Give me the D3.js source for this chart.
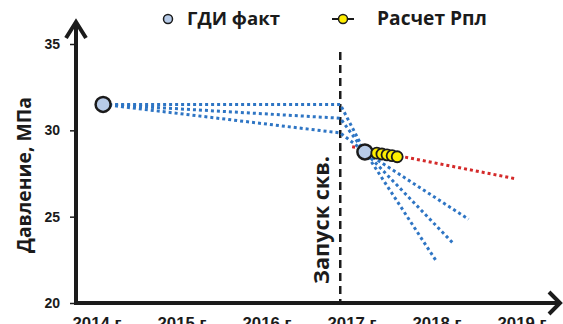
<!DOCTYPE html>
<html>
<head>
<meta charset="utf-8">
<script src="https://cdn.jsdelivr.net/npm/d3@7"></script>
<style>
  html, body { margin: 0; padding: 0; background: #fff; }
  svg { display: block; font-family: "Open Sans", "Noto Sans", sans-serif; }
</style>
</head>
<body>
<svg id="chart" width="563" height="324"></svg>
<script>
// Axis ticks
const years = [2014, 2015, 2016, 2017, 2018, 2019];
const pressureTicks = [20, 25, 30, 35];

// Well test measurements (ГДИ факт)
const gdiDates = [2014.06, 2017.14];
const gdiValues = [31.5, 28.75];

// Calculated reservoir pressure (Расчет Рпл)
const calcDates = [2017.28, 2017.34, 2017.40, 2017.46, 2017.52];
const calcValues = [28.68, 28.63, 28.58, 28.53, 28.47];

// Extrapolated trend of the calculated pressure
const trendDates = [2016.99, 2018.91];
const trendValues = [29.05, 27.2];

// Well launch date
const launchDate = 2016.85;

// Forecast scenarios before and after the launch
const scenarioA_dates = [2014.06, 2016.85, 2017.14, 2018.36];
const scenarioA_values = [31.5, 31.5, 28.75, 24.85];
const scenarioB_dates = [2014.06, 2016.85, 2017.14, 2018.18];
const scenarioB_values = [31.5, 30.7, 28.75, 23.45];
const scenarioC_dates = [2014.06, 2016.85, 2017.14, 2017.99];
const scenarioC_values = [31.5, 29.85, 28.75, 22.35];

const svg = d3.select("#chart");

const x = d3.scaleLinear().domain([2014, 2019]).range([98, 523]);
const y = d3.scaleLinear().domain([20, 35]).range([303, 44]);

const axisX0 = 76, axisY0 = 303;
const ink = "#1b1b1b";

// Scale a text's font size so that it spans the given width
function fitWidth(sel, width) {
  sel.each(function () {
    const base = parseFloat(this.style.fontSize);
    const w = this.getComputedTextLength();
    if (w > 0) this.style.fontSize = (base * width / w).toFixed(2) + "px";
  });
}

// Y axis ticks and labels
const yAxis = svg.append("g")
  .attr("transform", `translate(${axisX0},0)`)
  .call(d3.axisLeft(y).tickValues(pressureTicks).tickSize(6).tickPadding(10));
yAxis.select(".domain").remove();
yAxis.selectAll(".tick line").attr("stroke", ink).attr("stroke-width", 1.5);
yAxis.selectAll(".tick text")
  .attr("fill", ink)
  .style("font-size", "14px")
  .style("font-weight", "700");

// X axis labels
const xAxis = svg.append("g")
  .attr("transform", `translate(0,${axisY0})`)
  .call(d3.axisBottom(x).tickValues(years).tickSize(0).tickPadding(14)
    .tickFormat(d => d + " г."));
xAxis.select(".domain").remove();
xAxis.selectAll(".tick text")
  .attr("fill", ink)
  .style("font-size", "14px")
  .style("font-weight", "700");
fitWidth(xAxis.selectAll(".tick text"), 52);

// Axis lines with open arrowheads
svg.append("path")
  .attr("d", `M${axisX0},${axisY0} L${axisX0},22`)
  .attr("stroke", ink).attr("stroke-width", 4).attr("fill", "none");
svg.append("path")
  .attr("d", `M${axisX0 - 10},38 L${axisX0},22 L${axisX0 + 10},38`)
  .attr("stroke", ink).attr("stroke-width", 4).attr("fill", "none");
svg.append("path")
  .attr("d", `M${axisX0 - 2},${axisY0} L560,${axisY0}`)
  .attr("stroke", ink).attr("stroke-width", 4).attr("fill", "none");
svg.append("path")
  .attr("d", `M549,${axisY0 - 11} L560,${axisY0} L549,${axisY0 + 11}`)
  .attr("stroke", ink).attr("stroke-width", 4).attr("fill", "none");

// Y axis title
const yTitle = svg.append("text")
  .attr("transform", "translate(24,175) rotate(-90)")
  .attr("text-anchor", "middle")
  .attr("dy", "0.35em")
  .attr("fill", ink)
  .style("font-size", "18px")
  .style("font-weight", "700")
  .text("Давление, МПа");
fitWidth(yTitle, 156);

// Launch marker
svg.append("line")
  .attr("x1", x(launchDate)).attr("x2", x(launchDate))
  .attr("y1", 52).attr("y2", axisY0)
  .attr("stroke", ink).attr("stroke-width", 2.5)
  .attr("stroke-dasharray", "8,5");
const launchLabel = svg.append("text")
  .attr("transform", `translate(${x(launchDate) - 19},220) rotate(-90)`)
  .attr("text-anchor", "middle")
  .attr("dy", "0.35em")
  .attr("fill", ink)
  .style("font-size", "18px")
  .style("font-weight", "700")
  .text("Запуск скв.");
fitWidth(launchLabel, 128);

const line = d3.line().x(d => x(d[0])).y(d => y(d[1]));

// Forecast scenarios
const scenarios = [
  [scenarioA_dates, scenarioA_values],
  [scenarioB_dates, scenarioB_values],
  [scenarioC_dates, scenarioC_values]
];
svg.append("g").selectAll("path")
  .data(scenarios)
  .join("path")
  .attr("d", s => line(d3.zip(s[0], s[1])))
  .attr("fill", "none")
  .attr("stroke", "#2e75c4")
  .attr("stroke-width", 3)
  .attr("stroke-dasharray", "3,3");

// Trend of calculated pressure
svg.append("path")
  .attr("d", line(d3.zip(trendDates, trendValues)))
  .attr("fill", "none")
  .attr("stroke", "#d42a2a")
  .attr("stroke-width", 3)
  .attr("stroke-dasharray", "3,3");

// Well test points
svg.append("g").selectAll("circle")
  .data(d3.zip(gdiDates, gdiValues))
  .join("circle")
  .attr("cx", d => x(d[0])).attr("cy", d => y(d[1]))
  .attr("r", 7.5)
  .attr("fill", "#b7cbe8")
  .attr("stroke", ink).attr("stroke-width", 2.5);

// Calculated pressure points
const calc = d3.zip(calcDates, calcValues);
svg.append("path")
  .attr("d", line(calc))
  .attr("fill", "none").attr("stroke", ink).attr("stroke-width", 1.5);
svg.append("g").selectAll("circle")
  .data(calc)
  .join("circle")
  .attr("cx", d => x(d[0])).attr("cy", d => y(d[1]))
  .attr("r", 5.5)
  .attr("fill", "#ffee00")
  .attr("stroke", ink).attr("stroke-width", 1.8);

// Legend
const legend = svg.append("g");
legend.append("circle")
  .attr("cx", 168).attr("cy", 19).attr("r", 4.5)
  .attr("fill", "#b7cbe8").attr("stroke", ink).attr("stroke-width", 1.5);
const lg1 = legend.append("text")
  .attr("x", 187).attr("y", 25)
  .attr("fill", ink)
  .style("font-size", "18px").style("font-weight", "700")
  .text("ГДИ факт");
fitWidth(lg1, 93);
legend.append("line")
  .attr("x1", 332).attr("x2", 354).attr("y1", 19).attr("y2", 19)
  .attr("stroke", ink).attr("stroke-width", 2);
legend.append("circle")
  .attr("cx", 343).attr("cy", 19).attr("r", 4.5)
  .attr("fill", "#ffee00").attr("stroke", ink).attr("stroke-width", 1.5);
const lg2 = legend.append("text")
  .attr("x", 377).attr("y", 25)
  .attr("fill", ink)
  .style("font-size", "18px").style("font-weight", "700")
  .text("Расчет Рпл");
fitWidth(lg2, 110);
</script>
</body>
</html>
